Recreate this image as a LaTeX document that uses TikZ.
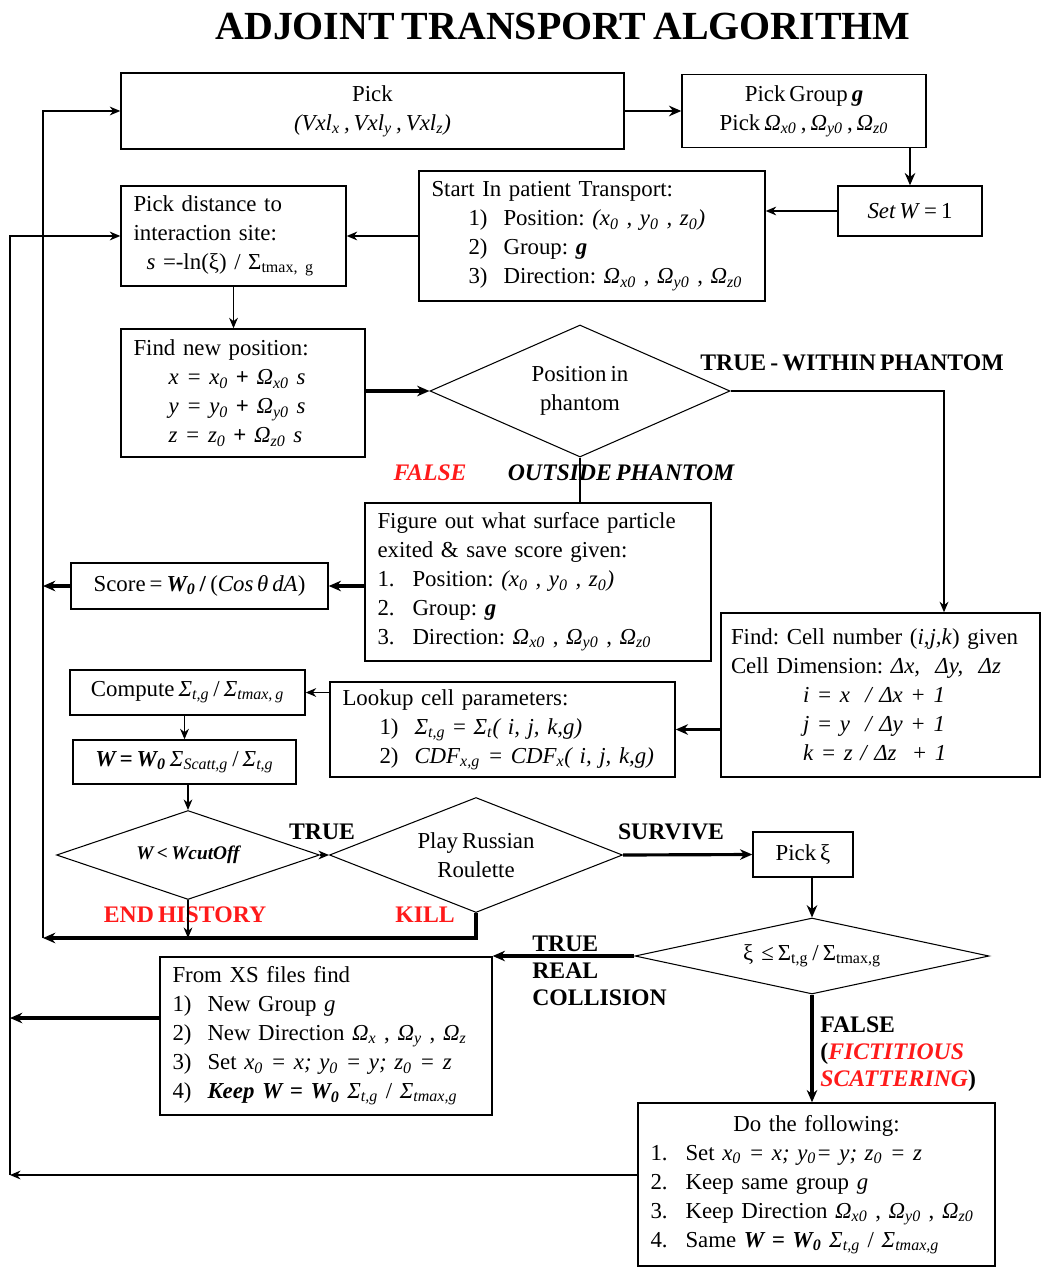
\documentclass[tikz,border=0pt,12pt]{standalone}
\usepackage{fontspec}
\setmainfont{Liberation Serif}[WordSpace=0.7]
\usepackage{xcolor}
\usepackage{tikz}
\usetikzlibrary{arrows.meta,positioning,shapes.geometric,calc}
\definecolor{ink}{HTML}{000000}
\definecolor{alarm}{HTML}{FF1A1A}
\newcommand{\Om}[1]{\textit{Ω}\textsubscript{\textit{#1}}}
\newcommand{\Sig}[1]{\textit{Σ}\textsubscript{\textit{#1}}}
\newcommand{\zs}[1]{\textit{#1}\textsubscript{\textit{0}}}
\newcommand{\itm}[2][0pt]{\hspace*{#1}\makebox[0.7cm][l]{#2}}
\frenchspacing
\tikzset{
  procbox/.style={
    rectangle, draw=ink, line width=0.8pt,
    font=\fontsize{13}{16.5}\selectfont, align=left,
    text width=#1, inner xsep=0.25cm, inner ysep=2pt
  },
  procbox/.default=4cm,
  cbox/.style={rectangle, draw=ink, line width=0.8pt,
    font=\fontsize{13}{16.5}\selectfont, align=center, inner sep=2pt},
  decbox/.style={diamond, draw=ink, line width=0.6pt, inner sep=0pt,
    shape aspect=#1, font=\fontsize{13}{16.5}\selectfont, align=center},
  decbox/.default=2,
  flowarrow/.style={
    -{Stealth[length=6pt,width=5pt]}, line width=0.7pt, color=#1
  },
  flowarrow/.default=ink,
  boldarrow/.style={-{Stealth[length=7pt,width=6pt]}, line width=1.8pt, color=ink},
  flag/.style={font=\fontsize{13.5}{15.5}\selectfont\bfseries, text=#1,
    align=left, inner sep=0pt},
  flag/.default=ink,
}

\begin{document}
\frenchspacing
\begin{tikzpicture}
\useasboundingbox (0,0) rectangle (20.84,-25.38);
\node[font=\fontsize{22.7}{26}\selectfont\bfseries] (title) at (11.26,-0.52) {ADJOINT TRANSPORT ALGORITHM};

% source sampling
\node[cbox, minimum width=10.06cm, minimum height=1.52cm] (pickvox) at (7.45,-2.22) {Pick\\\textit{(Vxl\textsubscript{x} , Vxl\textsubscript{y} , Vxl\textsubscript{z})}};
\node[cbox, minimum width=4.88cm, minimum height=1.46cm] (pickgrp) at (16.08,-2.22) {Pick Group \textbf{\textit{g}}\\Pick \Om{x0} , \Om{y0} , \Om{z0}};
\node[cbox, minimum width=2.88cm, minimum height=1.0cm] (setw) at (18.2,-4.22) {\textit{Set W} = 1};
\node[procbox=6.42cm, minimum height=2.6cm] (start) at (11.84,-4.72) {Start In patient Transport:\\
  \itm[0.74cm]{1)}Position: \textit{(\zs{x} , \zs{y} , \zs{z})}\\
  \itm[0.74cm]{2)}Group: \textbf{\textit{g}}\\
  \itm[0.74cm]{3)}Direction: \Om{x0} , \Om{y0} , \Om{z0}};
\node[procbox=4.0cm, minimum height=2.0cm] (pickdist) at (4.67,-4.72) {Pick distance to\\interaction site:\\\hspace*{0.26cm}\textit{s} =-ln(ξ) / Σ\textsubscript{tmax, g}};

% tracking
\node[procbox=4.38cm, minimum height=2.56cm] (findpos) at (4.86,-7.86) {Find new position:\\
  \hspace*{0.7cm}\textit{x = \zs{x}} \textbf{+} \Om{x0} \textit{s}\\
  \hspace*{0.7cm}\textit{y = \zs{y}} \textbf{+} \Om{y0} \textit{s}\\
  \hspace*{0.7cm}\textit{z = \zs{z}} \textbf{+} \Om{z0} \textit{s}};
\node[decbox=2.27, minimum width=6cm, minimum height=2.64cm] (inphantom) at (11.6,-7.82) {Position in\\phantom};
\node[procbox=6.42cm, minimum height=3.16cm] (surface) at (10.76,-11.64) {Figure out what surface particle\\exited \& save score given:\\
  \itm{1.}Position: \textit{(\zs{x} , \zs{y} , \zs{z})}\\
  \itm{2.}Group: \textbf{\textit{g}}\\
  \itm{3.}Direction: \Om{x0} , \Om{y0} , \Om{z0}};
\node[cbox, minimum width=5.14cm, minimum height=0.92cm] (score) at (3.99,-11.72) {Score = \textbf{\textit{W\textsubscript{0}} /} (\textit{Cos\,θ\,dA})};
\node[procbox=5.98cm, inner xsep=0.2cm, minimum height=3.28cm] (findcell) at (17.61,-13.9) {Find: Cell number (\textit{i,j,k}) given\\Cell Dimension: \textit{Δx,\ \ Δy,\ \ Δz}\\
  \hspace*{1.44cm}\textit{i = x\ \ / Δx + 1}\\
  \hspace*{1.44cm}\textit{j = y\ \ / Δy + 1}\\
  \hspace*{1.44cm}\textit{k = z / Δz\ \ + 1}};
\node[procbox=6.4cm, minimum height=1.9cm] (lookup) at (10.05,-14.59) {Lookup cell parameters:\\
  \itm[0.74cm]{1)}\Sig{t,g} = \Sig{t}\textit{( i, j, k,g)}\\
  \itm[0.74cm]{2)}\textit{CDF\textsubscript{x,g} = CDF\textsubscript{x}( i, j, k,g)}};
\node[cbox, minimum width=4.7cm, minimum height=0.9cm] (ratio) at (3.75,-13.85) {Compute \Sig{t,g} / \Sig{tmax, g}};
\node[cbox, minimum width=4.46cm, minimum height=0.88cm] (wnew) at (3.69,-15.24) {\textbf{\textit{W = W\textsubscript{0}}} \Sig{Scatt,g} / \Sig{t,g}};

% weight and collision
\node[decbox=2.96, minimum width=5.26cm, minimum height=1.78cm, font=\fontsize{11}{13}\selectfont\bfseries\itshape] (cutoff) at (3.76,-17.1) {W < WcutOff};
\node[decbox=2.55, minimum width=5.86cm, minimum height=2.3cm] (roulette) at (9.52,-17.1) {Play Russian\\Roulette};
\node[cbox, minimum width=2cm, minimum height=0.9cm] (pickxi) at (16.06,-17.09) {Pick ξ};
\node[decbox=4.66, minimum width=7.08cm, minimum height=1.52cm] (collide) at (16.24,-19.12) {ξ\ \ ≤ Σ\textsubscript{t,g} / Σ\textsubscript{tmax,g}};
\node[procbox=6.14cm, minimum height=3.16cm] (newdir) at (6.52,-20.72) {From XS files find\\
  \itm{1)}New Group \textit{g}\\
  \itm{2)}New Direction \Om{x} , \Om{y} , \Om{z}\\
  \itm{3)}Set \textit{\zs{x} = x; \zs{y} = y; \zs{z} = z}\\
  \itm{4)}\textbf{\textit{Keep W = W\textsubscript{0}}} \Sig{t,g} / \Sig{tmax,g}};
\node[procbox=6.64cm, minimum height=3.26cm] (keepdir) at (16.33,-23.69) {\makebox[\linewidth]{Do the following:}\\
  \itm{1.}Set \textit{\zs{x} = x; \zs{y}= y; \zs{z} = z}\\
  \itm{2.}Keep same group \textit{g}\\
  \itm{3.}Keep Direction \Om{x0} , \Om{y0} , \Om{z0}\\
  \itm{4.}Same \textbf{\textit{W = W\textsubscript{0}}} \Sig{t,g} / \Sig{tmax,g}};

% branch labels
\node[flag] (within) at (17.04,-7.26) {TRUE - WITHIN PHANTOM};
\node[flag=alarm] (nofalse) at (8.6,-9.46) {\itshape FALSE};
\node[flag] (outside) at (12.42,-9.46) {\itshape OUTSIDE PHANTOM};
\node[flag] (lowtrue) at (6.44,-16.64) {TRUE};
\node[flag] (survive) at (13.42,-16.64) {SURVIVE};
\node[flag=alarm] (endhist) at (3.7,-18.3) {END HISTORY};
\node[flag=alarm] (kill) at (8.5,-18.3) {KILL};
\node[flag, anchor=west] (realcol) at (10.64,-19.42) {TRUE\\REAL\\COLLISION};
\node[flag, anchor=west] (fict) at (16.4,-21.08) {FALSE\\(\textcolor{alarm}{\itshape FICTITIOUS}\\\textcolor{alarm}{\itshape SCATTERING})};

% return rails
\coordinate (railA) at (0.86,-18.76);
\coordinate (railB) at (0.2,-23.5);
\coordinate (xsout) at (0.2,-20.36);

\draw[boldarrow, line width=1.2pt] (pickvox.east) -- (pickgrp.west);
\draw[boldarrow, line width=1.2pt] (setw.north |- pickgrp.south) -- (setw.north);
\draw[flowarrow] (setw.west) -- (setw.west -| start.east);
\draw[flowarrow] (start.west) -- (pickdist.east);
\draw[flowarrow] (pickdist.south) -- (pickdist.south |- findpos.north);
\draw[boldarrow] (findpos.east |- inphantom.west) -- (inphantom.west);
\draw[flowarrow, line width=1.2pt] (inphantom.east) -| ([xshift=1.27cm]findcell.north);
\draw[line width=0.7pt] (inphantom.south) -- (inphantom.south |- surface.north);
\draw[boldarrow] (surface.west |- score.east) -- (score.east);
\draw[boldarrow] (score.west) -- (score.west -| railA);
\draw[boldarrow] (findcell.west |- lookup.east) -- (lookup.east);
\draw[flowarrow] (lookup.west |- ratio.east) -- (ratio.east);
\draw[flowarrow] (wnew.north |- ratio.south) -- (wnew.north);
\draw[flowarrow] (cutoff.north |- wnew.south) -- (cutoff.north);
\draw[flowarrow] (cutoff.east) -- (roulette.west);
\draw[boldarrow] (roulette.east) -- (pickxi.west);
\draw[boldarrow, line width=1.2pt] (collide.north |- pickxi.south) -- (collide.north);
\draw[boldarrow] (collide.west) -- (collide.west -| newdir.east);
\draw[boldarrow] (collide.south) -- (collide.south |- keepdir.north);
\draw[boldarrow] (newdir.west |- xsout) -- (xsout);
\draw[flowarrow] (keepdir.west |- railB) -- (railB);
\draw[flowarrow] (railB) |- (pickdist.west);
\draw[boldarrow] (roulette.south) |- (railA);
\draw[flowarrow] (cutoff.south) -- (cutoff.south |- railA);
\draw[flowarrow] (railA) |- (pickvox.west);
\end{tikzpicture}
\end{document}
